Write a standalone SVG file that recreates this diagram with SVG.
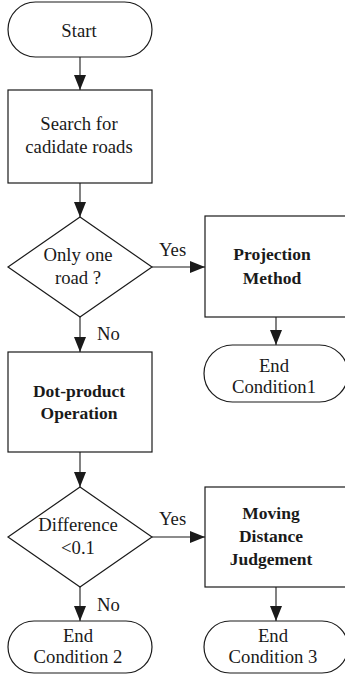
<svg xmlns="http://www.w3.org/2000/svg" width="345" height="674" viewBox="0 0 345 674">
  <style>
    .shape { fill: #ffffff; stroke: #1a1a1a; stroke-width: 1.2; }
    .edge { fill: none; stroke: #1a1a1a; stroke-width: 1.1; marker-end: url(#arrow); }
    text { font-family: "Liberation Serif", Tinos, "Times New Roman", "Nimbus Roman", "FreeSerif", "DejaVu Serif", serif; fill: #1a1a1a; }
    .t { font-size: 18.7px; font-weight: normal; text-anchor: middle; }
    .b { font-size: 17.5px; font-weight: bold; text-anchor: middle; }
    .lbl { font-size: 18.7px; font-weight: normal; }
  </style>
  <defs>
    <marker id="arrow" viewBox="0 0 15 12" refX="15" refY="6" markerWidth="15" markerHeight="12" markerUnits="userSpaceOnUse" orient="auto">
      <path d="M0,0 L15,6 L0,12 Z" fill="#1a1a1a"/>
    </marker>
  </defs>
  <rect width="345" height="674" fill="#ffffff"/>

  <!-- connectors -->
  <g id="connectors">
    <line class="edge" x1="80" y1="57" x2="80" y2="90"/>
    <line class="edge" x1="80" y1="183" x2="80" y2="217"/>
    <line class="edge" x1="152" y1="267" x2="205" y2="267"/>
    <line class="edge" x1="80" y1="317" x2="80" y2="352"/>
    <line class="edge" x1="276" y1="317" x2="276" y2="345"/>
    <line class="edge" x1="80" y1="452" x2="80" y2="487"/>
    <line class="edge" x1="152" y1="537" x2="205" y2="537"/>
    <line class="edge" x1="80" y1="587" x2="80" y2="621"/>
    <line class="edge" x1="276" y1="587" x2="276" y2="621"/>
    <text class="lbl" x="159" y="256" font-family="Liberation Serif, serif">Yes</text>
    <text class="lbl" x="97" y="340" font-family="Liberation Serif, serif">No</text>
    <text class="lbl" x="159" y="525" font-family="Liberation Serif, serif">Yes</text>
    <text class="lbl" x="97" y="611" font-family="Liberation Serif, serif">No</text>
  </g>

  <g id="start">
    <rect class="shape" x="8" y="2" width="144" height="55" rx="27.5"/>
    <text class="t" x="79" y="37">Start</text>
  </g>

  <g id="search">
    <rect class="shape" x="8" y="90" width="144" height="93"/>
    <text class="t" x="79" y="130">Search for</text>
    <text class="t" x="79" y="153">cadidate roads</text>
  </g>

  <g id="only-one">
    <polygon class="shape" points="80,217 152,267 80,317 8,267"/>
    <text class="t" x="78" y="261">Only one</text>
    <text class="t" x="78" y="284">road ?</text>
  </g>

  <g id="projection">
    <rect class="shape" x="205" y="216" width="144" height="101"/>
    <text class="b" x="272" y="260">Projection</text>
    <text class="b" x="272" y="284">Method</text>
  </g>

  <g id="end1">
    <rect class="shape" x="204" y="345" width="144" height="57" rx="28.5"/>
    <text class="t" x="274" y="372">End</text>
    <text class="t" x="274" y="393">Condition1</text>
  </g>

  <g id="dot-product">
    <rect class="shape" x="8" y="352" width="144" height="100"/>
    <text class="b" x="79" y="396.5">Dot-product</text>
    <text class="b" x="79" y="419">Operation</text>
  </g>

  <g id="difference">
    <polygon class="shape" points="80,487 152,537 80,587 8,537"/>
    <text class="t" x="78" y="531">Difference</text>
    <text class="t" x="78" y="554">&lt;0.1</text>
  </g>

  <g id="moving">
    <rect class="shape" x="205" y="487" width="144" height="100"/>
    <text class="b" x="271" y="519">Moving</text>
    <text class="b" x="271" y="542">Distance</text>
    <text class="b" x="271" y="565">Judgement</text>
  </g>

  <g id="end2">
    <rect class="shape" x="8" y="621" width="144" height="52" rx="26"/>
    <text class="t" x="78" y="642">End</text>
    <text class="t" x="78" y="663">Condition 2</text>
  </g>

  <g id="end3">
    <rect class="shape" x="204" y="621" width="144" height="52" rx="26"/>
    <text class="t" x="273" y="642">End</text>
    <text class="t" x="273" y="663">Condition 3</text>
  </g>
</svg>
